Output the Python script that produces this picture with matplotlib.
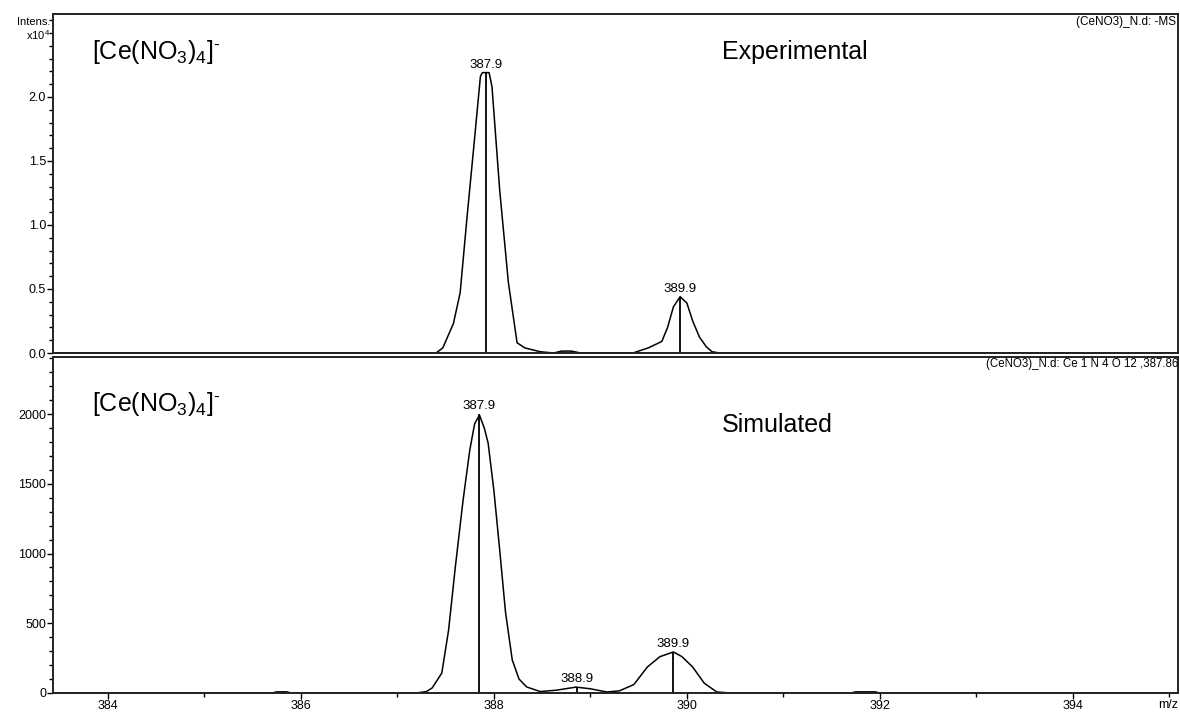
import numpy as np
import matplotlib
matplotlib.use("Agg")
import matplotlib.pyplot as plt
from matplotlib.ticker import MultipleLocator, FixedLocator

plt.rcParams['font.family'] = ['Liberation Sans', 'DejaVu Sans']
plt.rcParams['mathtext.fontset'] = 'custom'
plt.rcParams['mathtext.rm'] = 'Liberation Sans'

# ------------------------------------------------------------
# Data
# ------------------------------------------------------------
# experimental trace, intensity in units of 1e4
exp_mz = [383.3, 387.40, 387.47, 387.58, 387.65, 387.72, 387.79, 387.86, 387.88,
          387.95, 387.98, 388.06, 388.15, 388.24, 388.32, 388.48, 388.62, 388.70,
          388.80, 388.90, 389.44, 389.60, 389.74, 389.80, 389.86, 389.93, 390.00,
          390.06, 390.13, 390.20, 390.26, 390.34, 395.2]
exp_int = [0.0, 0.0, 0.04, 0.23, 0.47, 1.05, 1.60, 2.16, 2.19,
           2.19, 2.08, 1.27, 0.55, 0.08, 0.04, 0.01, 0.0, 0.015,
           0.015, 0.0, 0.0, 0.04, 0.09, 0.20, 0.36, 0.44, 0.39,
           0.25, 0.125, 0.05, 0.01, 0.0, 0.0]

# simulated isotope pattern
sim_mz = [383.3, 385.70, 385.75, 385.85, 385.90, 387.20, 387.30, 387.36, 387.46,
          387.53, 387.60, 387.68, 387.75, 387.80, 387.85, 387.90, 387.94, 388.00,
          388.06, 388.12, 388.19, 388.26, 388.34, 388.48, 388.65, 388.85, 389.00,
          389.17, 389.30, 389.45, 389.59, 389.72, 389.86, 389.95, 390.06, 390.18,
          390.31, 390.45, 391.70, 391.75, 391.95, 392.00, 395.2]
sim_int = [0, 0, 8, 8, 0, 0, 10, 36, 143,
           450, 903, 1380, 1742, 1930, 1993, 1900, 1792, 1450,
           1025, 580, 237, 100, 43, 10, 20, 42, 30,
           7, 15, 60, 186, 260, 294, 260, 186, 70,
           7, 0, 0, 8, 8, 0, 0]

exp_peaks = [387.92, 389.93]
exp_peak_h = [2.19, 0.44]
exp_peak_lbl = ["387.9", "389.9"]

sim_peaks = [387.85, 388.86, 389.86]
sim_peak_h = [2000, 42, 294]
sim_peak_lbl = ["387.9", "388.9", "389.9"]

ion = "[Ce(NO$\\mathregular{_3}$)$\\mathregular{_4}$]$\\mathregular{^{\u2010}}$"

# ------------------------------------------------------------
# Figure
# ------------------------------------------------------------
W, H = 1180, 713
fig = plt.figure(figsize=(W / 100, H / 100), dpi=100)
ax1 = fig.add_axes([0.0449, 0.5049, 0.9534, 0.4755])
ax2 = fig.add_axes([0.0449, 0.0281, 0.9534, 0.4712])

def px(x, y):
    # pixel position (from top-left) -> figure fraction
    return x / W, 1 - y / H

for ax in (ax1, ax2):
    ax.set_xlim(383.43, 395.09)
    for s in ax.spines.values():
        s.set_linewidth(1.4)
        s.set_color("#222222")
    ax.tick_params(axis='y', which='major', direction='out', length=4, width=1,
                   labelsize=9, pad=1)
    ax.tick_params(axis='y', which='minor', direction='out', length=3, width=1)

# top panel: experimental
ax1.plot(exp_mz, exp_int, color="black", lw=1.1)
ax1.vlines(exp_peaks, 0, exp_peak_h, color="black", lw=1.3)
for x, h, t in zip(exp_peaks, exp_peak_h, exp_peak_lbl):
    ax1.annotate(t, (x, h), xytext=(0, 1.5), textcoords="offset points",
                 ha="center", va="bottom", fontsize=9.5)
ax1.set_ylim(0, 2.648)
ax1.yaxis.set_major_locator(FixedLocator([0.0, 0.5, 1.0, 1.5, 2.0]))
ax1.yaxis.set_minor_locator(MultipleLocator(0.1))
ax1.yaxis.set_major_formatter(matplotlib.ticker.FormatStrFormatter("%.1f"))
ax1.set_xticks([])
fig.text(*px(50, 22), "Intens.", ha="right", va="center", fontsize=8)
fig.text(*px(50, 35), "x10$\\mathregular{^4}$", ha="right", va="center", fontsize=8)
fig.text(*px(1176, 22), "(CeNO3)_N.d: -MS", ha="right", va="center", fontsize=8.5)
fig.text(*px(92, 52), ion, fontsize=18, va="center", ha="left")
fig.text(*px(722, 52), "Experimental", fontsize=18, va="center", ha="left")

# bottom panel: simulated
ax2.plot(sim_mz, sim_int, color="black", lw=1.1)
ax2.vlines(sim_peaks, 0, sim_peak_h, color="black", lw=1.3)
for x, h, t in zip(sim_peaks, sim_peak_h, sim_peak_lbl):
    ax2.annotate(t, (x, h), xytext=(0, 1.5), textcoords="offset points",
                 ha="center", va="bottom", fontsize=9.5)
ax2.set_ylim(0, 2409)
ax2.yaxis.set_major_locator(MultipleLocator(500))
ax2.yaxis.set_minor_locator(MultipleLocator(100))
ax2.xaxis.set_major_locator(MultipleLocator(2))
ax2.xaxis.set_minor_locator(MultipleLocator(1))
ax2.tick_params(axis='x', which='major', direction='out', length=4, width=1,
                labelsize=9, pad=1)
ax2.tick_params(axis='x', which='minor', direction='out', length=3, width=1)
fig.text(*px(1178, 364), "(CeNO3)_N.d: Ce 1 N 4 O 12 ,387.86", ha="right",
         va="center", fontsize=8.3)
fig.text(*px(1168, 705), "m/z", fontsize=9, ha="center", va="center")
fig.text(*px(92, 404), ion, fontsize=18, va="center", ha="left")
fig.text(*px(722, 425), "Simulated", fontsize=18, va="center", ha="left")

fig.savefig("out.png", dpi=100)
